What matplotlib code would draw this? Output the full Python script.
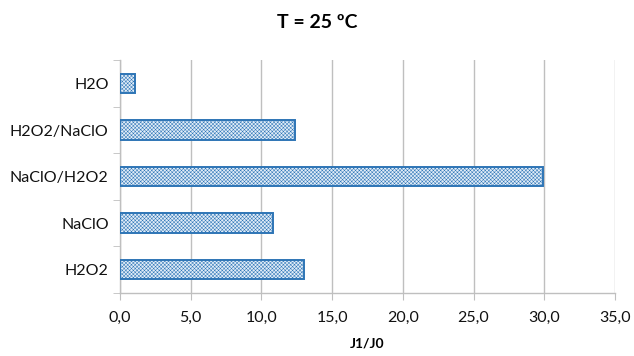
import matplotlib.pyplot as plt
import numpy as np
from matplotlib.ticker import FuncFormatter, FixedLocator

plt.rcParams['font.family'] = ['Lato', 'DejaVu Sans']
plt.rcParams['hatch.linewidth'] = 0.35
plt.rcParams['hatch.color'] = '#bcd5ef'

categories = ['H2O2', 'NaClO', 'NaClO/H2O2', 'H2O2/NaClO', 'H2O']
values = [13.0, 10.8, 29.9, 12.4, 1.1]
xticks = [0, 5, 10, 15, 20, 25, 30, 35]

fig = plt.figure(figsize=(6.34, 3.56), dpi=100)
ax = fig.add_axes([0.189, 0.177, 0.781, 0.654])

y = np.arange(len(categories))
ax.barh(y, values, height=0.42, color='#e2edf8', edgecolor='#2e75b6',
        linewidth=1.4, hatch='xxxxxxxxx', zorder=3)

ax.set_xlim(0, 35)
ax.set_ylim(-0.5, len(categories) - 0.5)
ax.set_xticks(xticks)
ax.xaxis.set_major_formatter(FuncFormatter(lambda v, p: f'{v:.1f}'.replace('.', ',')))
ax.set_yticks(y)
ax.set_yticklabels(categories)
ax.yaxis.set_minor_locator(FixedLocator(np.arange(-0.5, len(categories), 1)))

ax.grid(axis='x', color='#bfbfbf', linewidth=1, zorder=0)
for s in ['top', 'right']:
    ax.spines[s].set_visible(False)
for s in ['left', 'bottom']:
    ax.spines[s].set_color('#bfbfbf')
    ax.spines[s].set_linewidth(1)

ax.tick_params(axis='y', which='major', length=0, pad=8, labelsize=11.5, labelcolor='#111111')
ax.tick_params(axis='y', which='minor', length=5, color='#bfbfbf')
ax.tick_params(axis='x', length=5, color='#bfbfbf', labelsize=11.5, labelcolor='#111111', pad=8)

ax.set_xlabel('J1/J0', fontsize=10, fontweight='bold', labelpad=9)
fig.suptitle('T = 25 ºC', fontsize=14, fontweight='bold', y=0.96)

fig.savefig('out.png', dpi=100)
